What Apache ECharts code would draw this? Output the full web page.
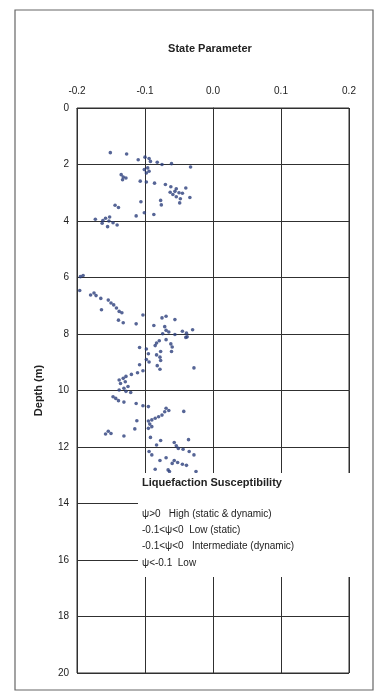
<!DOCTYPE html>
<html>
<head>
<meta charset="utf-8">
<script src="https://cdn.jsdelivr.net/npm/echarts@6/dist/echarts.min.js"></script>
<style>
  html, body { margin: 0; padding: 0; background: #fff; }
  #chart { width: 380px; height: 694px; }
</style>
</head>
<body>
<div id="chart"></div>
<script>
// state parameter psi vs depth (m)
const psiTicks = [-0.2, -0.1, 0.0, 0.1, 0.2]
const depthTicks = [0, 2, 4, 6, 8, 10, 12, 14, 16, 18, 20]

const upperLayer = [
  [-0.151, 1.58], [-0.127, 1.63], [-0.110, 1.83], [-0.100, 1.74], [-0.094, 1.79], [-0.092, 1.89],
  [-0.082, 1.92], [-0.075, 2.00], [-0.061, 1.97], [-0.033, 2.09], [-0.096, 2.12], [-0.101, 2.18],
  [-0.094, 2.24], [-0.098, 2.30], [-0.135, 2.36], [-0.132, 2.44], [-0.128, 2.48], [-0.133, 2.54],
  [-0.107, 2.59], [-0.098, 2.62], [-0.086, 2.66], [-0.070, 2.71], [-0.062, 2.79], [-0.054, 2.86],
  [-0.040, 2.83], [-0.063, 2.98], [-0.056, 2.95], [-0.050, 3.00], [-0.045, 3.02], [-0.059, 3.06],
  [-0.054, 3.14], [-0.048, 3.21], [-0.049, 3.36], [-0.034, 3.17], [-0.077, 3.27], [-0.076, 3.43],
  [-0.106, 3.32], [-0.144, 3.44], [-0.139, 3.52], [-0.101, 3.71], [-0.087, 3.77], [-0.113, 3.82],
  [-0.173, 3.94], [-0.162, 3.98], [-0.158, 3.90], [-0.152, 3.86], [-0.153, 4.00], [-0.147, 4.06],
  [-0.141, 4.14], [-0.155, 4.20], [-0.163, 4.08]
]
const middleLayer = [
  [-0.195, 5.97], [-0.191, 5.93], [-0.196, 6.46], [-0.180, 6.62], [-0.175, 6.55], [-0.172, 6.64],
  [-0.165, 6.74], [-0.154, 6.80], [-0.150, 6.90], [-0.146, 6.97], [-0.164, 7.14], [-0.142, 7.08],
  [-0.138, 7.20], [-0.134, 7.25], [-0.139, 7.51], [-0.132, 7.60], [-0.113, 7.64], [-0.103, 7.33],
  [-0.075, 7.43], [-0.069, 7.37], [-0.056, 7.49], [-0.087, 7.70], [-0.071, 7.74], [-0.069, 7.87],
  [-0.065, 7.93], [-0.074, 7.99], [-0.056, 8.02], [-0.045, 7.90], [-0.039, 7.97], [-0.040, 8.12],
  [-0.030, 7.85], [-0.038, 8.10], [-0.069, 8.20], [-0.079, 8.24], [-0.083, 8.32], [-0.062, 8.35],
  [-0.060, 8.46], [-0.061, 8.62], [-0.085, 8.41], [-0.108, 8.48], [-0.098, 8.53], [-0.095, 8.70],
  [-0.077, 8.62], [-0.083, 8.74], [-0.078, 8.82], [-0.077, 8.94], [-0.098, 8.90], [-0.094, 8.99],
  [-0.108, 9.09], [-0.082, 9.12], [-0.078, 9.25], [-0.028, 9.20]
]
const lowerLayer = [
  [-0.103, 9.30], [-0.111, 9.37], [-0.120, 9.43], [-0.128, 9.50], [-0.138, 9.63], [-0.132, 9.57],
  [-0.136, 9.75], [-0.129, 9.69], [-0.125, 9.86], [-0.131, 9.92], [-0.138, 9.98], [-0.128, 10.03],
  [-0.121, 10.07], [-0.147, 10.22], [-0.143, 10.28], [-0.139, 10.36], [-0.131, 10.41], [-0.113, 10.46],
  [-0.103, 10.54], [-0.095, 10.57], [-0.069, 10.63], [-0.065, 10.71], [-0.071, 10.75], [-0.075, 10.87],
  [-0.080, 10.93], [-0.085, 10.98], [-0.090, 11.04], [-0.095, 11.08], [-0.043, 10.74], [-0.112, 11.07],
  [-0.093, 11.19], [-0.090, 11.28], [-0.095, 11.34], [-0.115, 11.36], [-0.154, 11.44], [-0.150, 11.52],
  [-0.158, 11.54], [-0.131, 11.61], [-0.092, 11.66], [-0.077, 11.77], [-0.057, 11.84], [-0.054, 11.96],
  [-0.036, 11.74], [-0.083, 11.93], [-0.051, 12.05], [-0.044, 12.08], [-0.035, 12.16], [-0.028, 12.28],
  [-0.094, 12.16], [-0.090, 12.28], [-0.078, 12.48], [-0.069, 12.38], [-0.057, 12.48], [-0.052, 12.55],
  [-0.045, 12.61], [-0.039, 12.65], [-0.060, 12.58], [-0.085, 12.79], [-0.066, 12.81], [-0.064, 12.87],
  [-0.025, 12.87]
]

const legendTitle = 'Liquefaction Susceptibility'
const legendLines = [
  'ψ>0   High (static & dynamic)',
  '-0.1<ψ<0  Low (static)',
  '-0.1<ψ<0   Intermediate (dynamic)',
  'ψ<-0.1  Low'
]

const font = 'Liberation Sans, Arial, sans-serif'
const lineColor = '#303030'
const textColor = '#222'

const chart = echarts.init(document.getElementById('chart'), null, { renderer: 'canvas' })

const legendText = legendLines.map((t, i) => ({
  type: 'text',
  left: 142,
  top: 509 + i * 16.3,
  z: 101,
  style: { text: t, font: '10px ' + font, fill: textColor }
}))

chart.setOption({
  animation: false,
  backgroundColor: '#fff',
  title: {
    text: 'State Parameter',
    left: 205,
    top: 38,
    textAlign: 'center',
    textStyle: { fontFamily: font, fontSize: 11, fontWeight: 'bold', color: textColor }
  },
  grid: {
    left: 77, right: 31, top: 108, bottom: 21,
    show: true, borderColor: lineColor, borderWidth: 1
  },
  xAxis: {
    type: 'value',
    position: 'top',
    min: psiTicks[0],
    max: psiTicks[psiTicks.length - 1],
    interval: 0.1,
    axisLine: { show: true, lineStyle: { color: lineColor } },
    axisTick: { show: false },
    axisLabel: {
      margin: 12,
      fontFamily: font, fontSize: 10, color: textColor,
      formatter: v => v.toFixed(1)
    },
    splitLine: { show: true, lineStyle: { color: lineColor, width: 1 } }
  },
  yAxis: {
    type: 'value',
    inverse: true,
    min: depthTicks[0],
    max: depthTicks[depthTicks.length - 1],
    interval: 2,
    name: 'Depth (m)',
    nameLocation: 'middle',
    nameGap: 33,
    nameRotate: 90,
    nameTextStyle: { fontFamily: font, fontSize: 11, fontWeight: 'bold', color: textColor },
    axisLine: { show: true, lineStyle: { color: lineColor } },
    axisTick: { show: true, inside: false, length: 5, lineStyle: { color: lineColor } },
    axisLabel: { margin: 8, fontFamily: font, fontSize: 10, color: textColor },
    splitLine: { show: true, lineStyle: { color: lineColor, width: 1 } }
  },
  series: [upperLayer, middleLayer, lowerLayer].map(d => ({
    type: 'scatter',
    data: d,
    symbol: 'circle',
    symbolSize: 3.6,
    itemStyle: { color: '#2c3f7c' },
    z: 3
  })),
  graphic: [
    {
      type: 'rect',
      shape: { x: 15, y: 10, width: 358, height: 680 },
      style: { fill: 'none', stroke: '#666', lineWidth: 1.2 },
      z: 0, silent: true
    },
    {
      type: 'rect',
      shape: { x: 138, y: 473, width: 220, height: 104 },
      style: { fill: '#fff' },
      z: 100, silent: true
    },
    {
      type: 'text',
      left: 142,
      top: 477,
      z: 101,
      style: { text: legendTitle, font: 'bold 11px ' + font, fill: textColor }
    }
  ].concat(legendText)
})
</script>
</body>
</html>
